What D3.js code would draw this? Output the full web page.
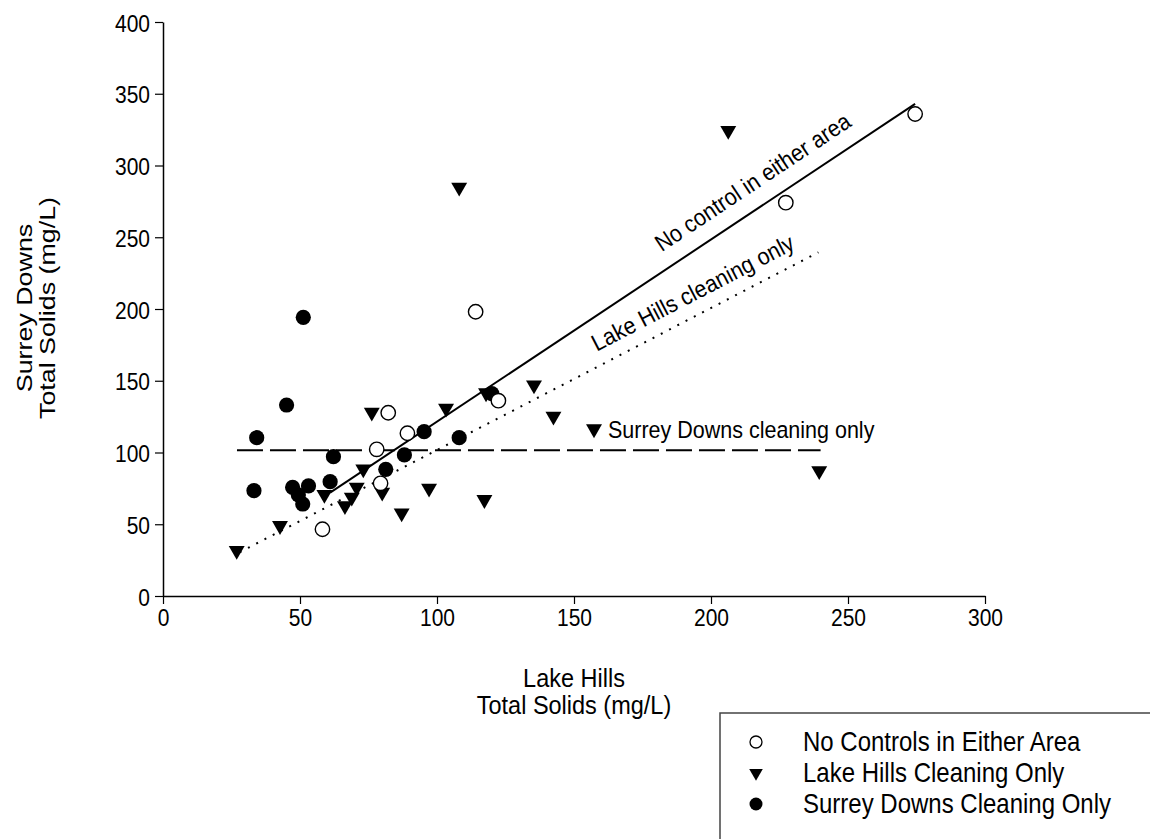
<html>
<head>
<script src="https://d3js.org/d3.v7.min.js"></script>
<style type="text/css">
  body { margin: 0; background: #fff; }
  text { font-family: "Liberation Sans", Arial, sans-serif; fill: #000; }
</style>
</head>
<body>
<svg id="chart" width="1150" height="839"></svg>
<script>
// Lake Hills (x) vs Surrey Downs (y) total solids, mg/L
var noControl = [[58.2,46.5],[78,102.2],[79.4,78.5],[82.2,127.7],[89.2,113.4],
                 [114.1,198.1],[122.4,136.1],[227.3,274.1],[274.5,335.9]];
var lakeHills = [[26.9,30.9],[42.7,48.3],[58.9,70],[66.4,62.2],[68.9,68],[70.7,75],
                 [73.1,87.8],[76.2,127.3],[80,71.6],[87.1,57.1],[97.1,74.4],[103.3,130.1],
                 [108.1,284.1],[117.3,66.4],[117.9,140.8],[135.4,146.3],[142.5,124.5],
                 [157.3,115.7],[206.3,323.6],[239.5,86.6]];
var surreyDowns = [[33.2,73.4],[34.2,110.3],[45.1,133.1],[47.3,75.7],[49.4,70.4],
                   [51,64.1],[51.2,194.2],[53.1,76.7],[61,79.7],[62.2,97.1],[81.3,88.3],
                   [88.1,98.3],[95.3,114.5],[108.1,110.3],[120,141]];

var solidLine = [[61,72],[274.5,343]];
var dottedLine = [[28,30.5],[239.2,239.5]];
var dashedLine = [[27,101.5],[240,101.5]];

var lineLabels = ["No control in either area", "Lake Hills cleaning only", "Surrey Downs cleaning only"];
var labelAnchors = [[182,239.5],[158.3,170.2],[162.4,110.1]];

var xTicks = [0,50,100,150,200,250,300];
var yTicks = [0,50,100,150,200,250,300,350,400];
var legendLabels = ["No Controls in Either Area","Lake Hills Cleaning Only","Surrey Downs Cleaning Only"];

var stretch = 1.18; // the source image text is a bit taller than normal

var svg = d3.select("#chart");
var x = d3.scaleLinear().domain([0,300]).range([163,985]);
var y = d3.scaleLinear().domain([0,400]).range([596,22]);

// axes
svg.append("g")
    .attr("transform","translate(0,596)")
    .call(d3.axisBottom(x).tickValues(xTicks).tickSize(8).tickSizeOuter(0))
    .call(function(g){
      g.select(".domain").attr("stroke","#000").attr("stroke-width",1.5);
      g.selectAll(".tick line").attr("stroke","#000").attr("stroke-width",1.2);
      g.selectAll(".tick text")
        .attr("y",0).attr("dy",null)
        .attr("transform","translate(0,30) scale(1," + stretch + ")")
        .style("font-size","21px").style("font-family","Liberation Sans, Arial");
    });
svg.append("g")
    .attr("transform","translate(163,0)")
    .call(d3.axisLeft(y).tickValues(yTicks).tickSize(8).tickSizeOuter(0))
    .call(function(g){
      g.select(".domain").attr("stroke","#000").attr("stroke-width",1.5);
      g.selectAll(".tick line").attr("stroke","#000").attr("stroke-width",1.2);
      g.selectAll(".tick text")
        .attr("x",0).attr("dy",null)
        .attr("transform","translate(-13,9) scale(1," + stretch + ")")
        .style("font-size","21px").style("font-family","Liberation Sans, Arial");
    });

// axis titles
var tstretch = 1.08;
svg.append("text").attr("text-anchor","middle").style("font-size","23.5px")
    .attr("transform","translate(574,687) scale(1," + tstretch + ")")
    .text("Lake Hills");
svg.append("text").attr("text-anchor","middle").style("font-size","23.5px")
    .attr("transform","translate(574,714) scale(1," + tstretch + ")")
    .text("Total Solids (mg/L)");
var yt = svg.append("text").attr("text-anchor","middle").style("font-size","22px")
    .attr("transform","translate(0,308) rotate(-90) scale(1.22,1)");
yt.append("tspan").attr("x",0).attr("y",32).text("Surrey Downs");
yt.append("tspan").attr("x",0).attr("y",55).text("Total Solids (mg/L)");

// fitted lines
var line = d3.line().x(function(d){ return x(d[0]); }).y(function(d){ return y(d[1]); });
svg.append("path").datum(solidLine).attr("d",line)
    .attr("fill","none").attr("stroke","#000").attr("stroke-width",2);
svg.append("path").datum(dottedLine).attr("d",line)
    .attr("fill","none").attr("stroke","#000").attr("stroke-width",2)
    .attr("stroke-dasharray","2 7.3");
svg.append("path").datum(dashedLine).attr("d",line)
    .attr("fill","none").attr("stroke","#000").attr("stroke-width",2)
    .attr("stroke-dasharray","26 7");

function angleOf(l){
  return Math.atan2(y(l[1][1]) - y(l[0][1]), x(l[1][0]) - x(l[0][0])) * 180 / Math.PI;
}
var labelAngles = [angleOf(solidLine), angleOf(dottedLine), 0];

svg.selectAll("text.linelabel")
  .data(lineLabels)
  .enter()
  .append("text")
    .attr("class","linelabel")
    .attr("transform", function(d,i){
      return "translate(" + x(labelAnchors[i][0]) + "," + y(labelAnchors[i][1]) + ") rotate(" + labelAngles[i] + ") scale(1,1.1)";
    })
    .style("font-size","21.5px")
    .text(function(d){ return d; });

// points
var tri = d3.symbol().type(d3.symbolTriangle).size(110);
svg.selectAll("path.lh")
  .data(lakeHills)
  .enter()
  .append("path")
    .attr("class","lh")
    .attr("d", tri)
    .attr("transform", function(d){ return "translate(" + x(d[0]) + "," + (y(d[1]) - 1) + ") rotate(180)"; })
    .attr("fill","#000");

svg.selectAll("circle.sd")
  .data(surreyDowns)
  .enter()
  .append("circle")
    .attr("class","sd")
    .attr("cx", function(d){ return x(d[0]); })
    .attr("cy", function(d){ return y(d[1]); })
    .attr("r", 7.6)
    .attr("fill","#000");

svg.selectAll("circle.nc")
  .data(noControl)
  .enter()
  .append("circle")
    .attr("class","nc")
    .attr("cx", function(d){ return x(d[0]); })
    .attr("cy", function(d){ return y(d[1]); })
    .attr("r", 7.2)
    .attr("fill","#fff")
    .attr("stroke","#000")
    .attr("stroke-width",1.4);

// legend
svg.append("rect").attr("x",720).attr("y",713).attr("width",500).attr("height",200)
    .attr("fill","none").attr("stroke","#444").attr("stroke-width",1.5);
var rows = [742, 773, 804];
var lg = svg.selectAll("g.leg").data(legendLabels).enter().append("g")
    .attr("class","leg")
    .attr("transform", function(d,i){ return "translate(756," + rows[i] + ")"; });
lg.each(function(d,i){
  var g = d3.select(this);
  if (i == 0) g.append("circle").attr("r",6).attr("fill","#fff").attr("stroke","#000").attr("stroke-width",1.3);
  if (i == 1) g.append("path").attr("d", d3.symbol().type(d3.symbolTriangle).size(80)).attr("transform","rotate(180)").attr("fill","#000");
  if (i == 2) g.append("circle").attr("r",6.5).attr("fill","#000");
});
lg.append("text")
    .attr("transform","translate(47,9) scale(1,1.12)")
    .style("font-size","24px")
    .text(function(d){ return d; });
</script>
</body>
</html>
